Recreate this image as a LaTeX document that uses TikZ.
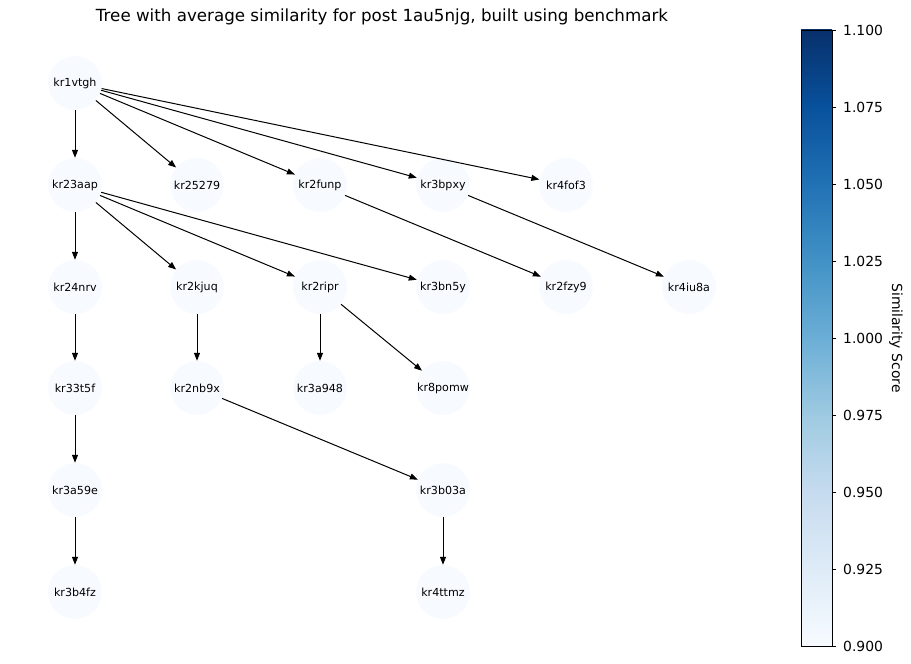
\documentclass[tikz,border=0pt]{standalone}
\usepackage{fontspec}
\setmainfont{DejaVu Sans}
\usetikzlibrary{arrows.meta}
\definecolor{b0}{HTML}{F7FBFF}
\definecolor{b1}{HTML}{DEEBF7}
\definecolor{b2}{HTML}{C6DBEF}
\definecolor{b3}{HTML}{9ECAE1}
\definecolor{b4}{HTML}{6BAED6}
\definecolor{b5}{HTML}{4292C6}
\definecolor{b6}{HTML}{2171B5}
\definecolor{b7}{HTML}{08519C}
\definecolor{b8}{HTML}{08306B}
\begin{document}
\begin{tikzpicture}[x=1pt,y=-1pt,
  tnode/.style={circle,fill=b0,minimum size=54pt,inner sep=0pt,font=\fontsize{11.1}{13}\selectfont},
  edge/.style={draw=black,line width=1pt,-{Triangle[length=8pt,width=6pt]},shorten >=0pt},
  ticklab/.style={anchor=west,font=\fontsize{13.9}{16}\selectfont,inner sep=0pt}]
\useasboundingbox (0,0) rectangle (911,664);
\node[font=\fontsize{16.7}{19}\selectfont] (title) at (382,17) {Tree with average similarity for post 1au5njg, built using benchmark};
% nodes
\node[tnode] (kr1vtgh) at (75,83) {kr1vtgh};
\node[tnode] (kr23aap) at (75,185) {kr23aap};
\node[tnode] (kr25279) at (197,185) {kr25279};
\node[tnode] (kr2funp) at (320,185) {kr2funp};
\node[tnode] (kr3bpxy) at (443,185) {kr3bpxy};
\node[tnode] (kr4fof3) at (566,185) {kr4fof3};
\node[tnode] (kr24nrv) at (75,287) {kr24nrv};
\node[tnode] (kr2kjuq) at (197,287) {kr2kjuq};
\node[tnode] (kr2ripr) at (320,287) {kr2ripr};
\node[tnode] (kr3bn5y) at (443,287) {kr3bn5y};
\node[tnode] (kr2fzy9) at (566,287) {kr2fzy9};
\node[tnode] (kr4iu8a) at (689,287) {kr4iu8a};
\node[tnode] (kr33t5f) at (75,388) {kr33t5f};
\node[tnode] (kr2nb9x) at (197,388) {kr2nb9x};
\node[tnode] (kr3a948) at (320,388) {kr3a948};
\node[tnode] (kr8pomw) at (443,388) {kr8pomw};
\node[tnode] (kr3a59e) at (75,490) {kr3a59e};
\node[tnode] (kr3b03a) at (443,490) {kr3b03a};
\node[tnode] (kr3b4fz) at (75,592) {kr3b4fz};
\node[tnode] (kr4ttmz) at (443,592) {kr4ttmz};
% edges
\foreach \a/\b in {kr1vtgh/kr23aap,kr1vtgh/kr25279,kr1vtgh/kr2funp,kr1vtgh/kr3bpxy,kr1vtgh/kr4fof3,
  kr23aap/kr24nrv,kr23aap/kr2kjuq,kr23aap/kr2ripr,kr23aap/kr3bn5y,
  kr2funp/kr2fzy9,kr3bpxy/kr4iu8a,kr24nrv/kr33t5f,kr2kjuq/kr2nb9x,
  kr2ripr/kr3a948,kr2ripr/kr8pomw,kr33t5f/kr3a59e,kr2nb9x/kr3b03a,
  kr3a59e/kr3b4fz,kr3b03a/kr4ttmz}
  \draw[edge] (\a) -- (\b);
% colorbar
\foreach \i/\lo/\hi in {0/b0/b1,1/b1/b2,2/b2/b3,3/b3/b4,4/b4/b5,5/b5/b6,6/b6/b7,7/b7/b8}{
  \shade[bottom color=\lo,top color=\hi] (801,{646-77*\i+0.4}) rectangle (832,{646-77*(\i+1)-0.4});
}
\node[draw=black,line width=0.9pt,fill=none,minimum width=31pt,minimum height=616pt,inner sep=0pt] (cbar) at (816.5,338) {};
\foreach \i/\lab in {0/0.900,1/0.925,2/0.950,3/0.975,4/1.000,5/1.025,6/1.050,7/1.075,8/1.100}{
  \draw[line width=0.9pt] (832,{646-77*\i}) -- (836,{646-77*\i});
  \node[ticklab] (t\i) at (843,{646-77*\i}) {\lab};
}
\node[rotate=-90,font=\fontsize{13.9}{16}\selectfont] (cbarlabel) at (896,338) {Similarity Score};
\end{tikzpicture}
\end{document}
